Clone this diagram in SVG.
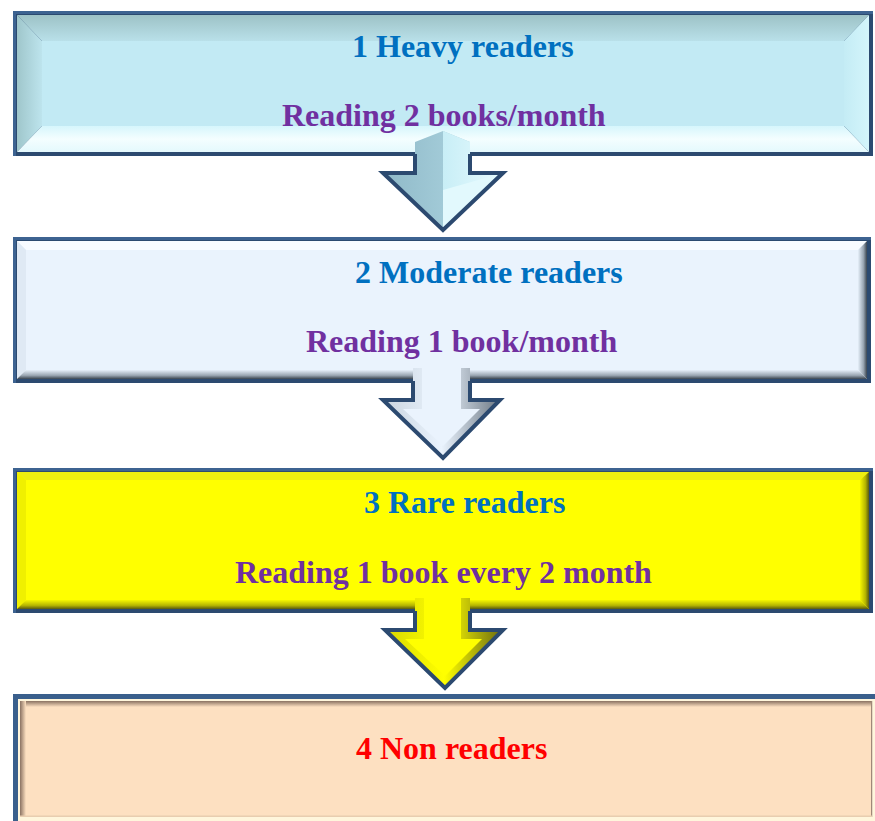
<svg xmlns="http://www.w3.org/2000/svg" width="875" height="821" viewBox="0 0 875 821">
<style>
.t{font-family:"Liberation Serif","Times New Roman",serif;font-weight:bold;font-size:32px}
.blue{fill:#0070C0}.purple{fill:#7030A0}.red{fill:#FF0000}
.frame{fill:#2c4a70}
.astroke{fill:none;stroke:#2c4a70;stroke-width:4;stroke-linejoin:miter}
</style>
<defs>
<linearGradient id="b1top" x1="0" y1="0" x2="0" y2="1"><stop offset="0" stop-color="#9dc2c6"/><stop offset="1" stop-color="#b9e0e9"/></linearGradient>
<linearGradient id="b1left" x1="0" y1="0" x2="1" y2="0"><stop offset="0" stop-color="#9fc6cb"/><stop offset="1" stop-color="#bde4ed"/></linearGradient>
<linearGradient id="b1bot" x1="0" y1="0" x2="0" y2="1"><stop offset="0" stop-color="#d6f6fc"/><stop offset="0.5" stop-color="#f4feff"/><stop offset="1" stop-color="#e4f9fd"/></linearGradient>
<linearGradient id="b1right" x1="0" y1="0" x2="1" y2="0"><stop offset="0" stop-color="#c4ecf5"/><stop offset="1" stop-color="#d4f5fb"/></linearGradient>
<linearGradient id="b2right" x1="0" y1="0" x2="1" y2="0"><stop offset="0" stop-color="#e6f0fa"/><stop offset="0.6" stop-color="#9aa6b2"/><stop offset="1" stop-color="#3a4550"/></linearGradient>
<linearGradient id="b2bot" x1="0" y1="0" x2="0" y2="1"><stop offset="0" stop-color="#e6f0fa"/><stop offset="0.6" stop-color="#9aa6b2"/><stop offset="1" stop-color="#3a4550"/></linearGradient>
<linearGradient id="b3right" x1="0" y1="0" x2="1" y2="0"><stop offset="0" stop-color="#f6f600"/><stop offset="0.6" stop-color="#b5b500"/><stop offset="1" stop-color="#5a5a10"/></linearGradient>
<linearGradient id="b3bot" x1="0" y1="0" x2="0" y2="1"><stop offset="0" stop-color="#f6f600"/><stop offset="0.6" stop-color="#b5b500"/><stop offset="1" stop-color="#5a5a10"/></linearGradient>
<linearGradient id="b4shadow" x1="0" y1="0" x2="0" y2="1"><stop offset="0" stop-color="#8a7262"/><stop offset="1" stop-color="#fde0c1"/></linearGradient>
<linearGradient id="b4shadowL" x1="0" y1="0" x2="1" y2="0"><stop offset="0" stop-color="#8a7262"/><stop offset="1" stop-color="#fde0c1"/></linearGradient>
<linearGradient id="a1L" x1="0" y1="0" x2="1" y2="0"><stop offset="0" stop-color="#8fb9c8"/><stop offset="1" stop-color="#b4dbe6"/></linearGradient>
<linearGradient id="a1R" x1="0" y1="0" x2="1" y2="0"><stop offset="0" stop-color="#c8eef6"/><stop offset="1" stop-color="#e8fbff"/></linearGradient>
<linearGradient id="a2g" x1="0" y1="0" x2="1" y2="0"><stop offset="0" stop-color="#c9d4df"/><stop offset="0.5" stop-color="#eaf3fd"/><stop offset="1" stop-color="#6c7884"/></linearGradient>
<linearGradient id="a3g" x1="0" y1="0" x2="1" y2="0"><stop offset="0" stop-color="#d8d800"/><stop offset="0.5" stop-color="#ffff00"/><stop offset="1" stop-color="#6a6a10"/></linearGradient>
</defs>

<g id="node1">
<rect class="frame" x="13" y="11" width="860" height="145"/>
<rect x="13" y="11" width="860" height="3" fill="#3d6391"/>
<rect x="13" y="11" width="3" height="145" fill="#3d6391"/>
<polygon points="17,15 869,15 844,41 42,41" fill="url(#b1top)"/>
<polygon points="17,15 42,41 42,126 17,152" fill="url(#b1left)"/>
<polygon points="17,152 42,126 844,126 869,152" fill="url(#b1bot)"/>
<polygon points="869,15 844,41 844,126 869,152" fill="url(#b1right)"/>
<rect x="42" y="41" width="802" height="85" fill="#C2EAF4"/>
<text class="t blue" x="352" y="57">1 Heavy readers</text>
<text class="t purple" x="282" y="126">Reading 2 books/month</text>
</g>

<g id="node2">
<rect class="frame" x="13" y="237" width="858" height="146"/>
<rect x="13" y="237" width="858" height="3" fill="#3d6391"/>
<rect x="13" y="237" width="3" height="146" fill="#3d6391"/>
<rect x="17" y="241" width="850" height="138" fill="#EAF3FD"/>
<polygon points="17,241 867,241 858,250 26,250" fill="#f8fbff"/>
<polygon points="17,241 26,250 26,370 17,379" fill="#dfe9f4"/>
<polygon points="867,241 858,250 858,370 867,379" fill="url(#b2right)"/>
<polygon points="17,379 26,370 858,370 867,379" fill="url(#b2bot)"/>
<text class="t blue" x="355" y="283">2 Moderate readers</text>
<text class="t purple" x="306" y="352">Reading 1 book/month</text>
</g>

<g id="node3">
<rect class="frame" x="13" y="468" width="860" height="145"/>
<rect x="13" y="468" width="860" height="3" fill="#3d6391"/>
<rect x="13" y="468" width="3" height="145" fill="#3d6391"/>
<rect x="17" y="472" width="852" height="137" fill="#FFFF00"/>
<polygon points="17,472 869,472 860,480 26,480" fill="#eeee10"/>
<polygon points="17,472 26,480 26,600 17,609" fill="#f0f000"/>
<polygon points="869,472 860,480 860,600 869,609" fill="url(#b3right)"/>
<polygon points="17,609 26,600 860,600 869,609" fill="url(#b3bot)"/>
<text class="t blue" x="364" y="513">3 Rare readers</text>
<text class="t purple" x="235" y="583">Reading 1 book every 2 month</text>
</g>

<g id="node4">
<rect x="13" y="694" width="870" height="135" fill="#3a5f8c"/>
<rect x="18" y="699" width="865" height="130" fill="#fff6dc"/>
<rect x="20" y="701" width="852" height="116" fill="#FDE0C1"/>
<rect x="20" y="701" width="852" height="6" fill="url(#b4shadow)"/>
<rect x="20" y="701" width="6" height="116" fill="url(#b4shadowL)"/>
<rect x="871" y="701" width="1.5" height="116" fill="#a08878"/>
<rect x="20" y="815.5" width="852" height="1.5" fill="#e8cdb0"/>
<rect x="872.5" y="699" width="3" height="122" fill="#fff6dc"/>
<text class="t red" x="356" y="759">4 Non readers</text>
</g>

<g id="connectors">
<g id="arrow1">
<polygon points="415,142 443,131 470,142 470,173 503,173 443,230 383,173 415,173" fill="url(#a1L)"/>
<polygon points="443,131 470,142 470,173 503,173 443,230" fill="url(#a1R)"/>
<polygon points="443,190 503,173 443,230" fill="#e2f9fd"/>
<path class="astroke" d="M415,154 L415,173 L383,173 L443,230 L503,173 L470,173 L470,154"/>
</g>
<g id="arrow2">
<polygon points="413,368 470,368 470,400 500,400 443,458 383,400 413,400" fill="url(#a2g)"/>
<polygon points="422,368 461,368 461,409 480,409 443,446 403,409 422,409" fill="#EAF3FD"/>
<path class="astroke" d="M413,381 L413,400 L383,400 L443,458 L500,400 L470,400 L470,381"/>
</g>
<g id="arrow3">
<polygon points="415,598 470,598 470,630 503,630 445,688 385,630 415,630" fill="url(#a3g)"/>
<polygon points="424,598 461,598 461,639 482,639 445,676 405,639 424,639" fill="#FFFF00"/>
<path class="astroke" d="M415,611 L415,630 L385,630 L445,688 L503,630 L470,630 L470,611"/>
</g>
</g>
</svg>
